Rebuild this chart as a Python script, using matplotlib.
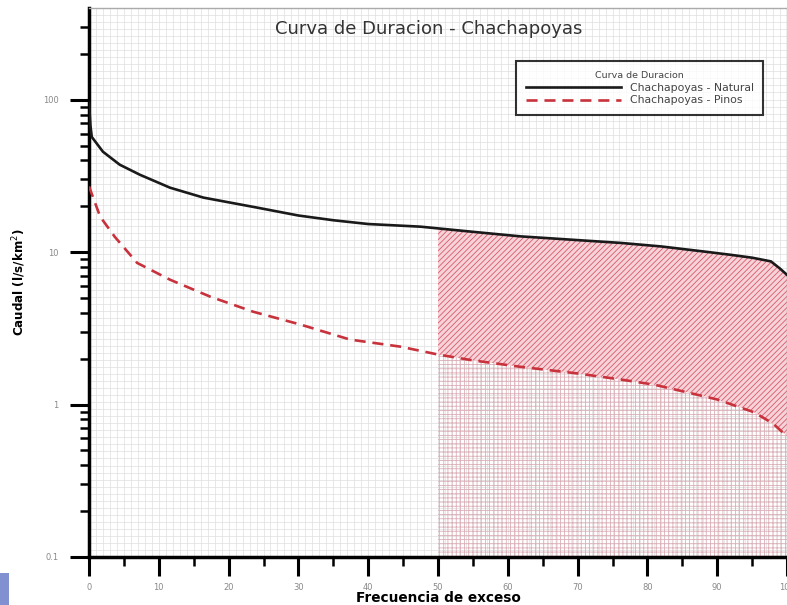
import numpy as np
import matplotlib
matplotlib.use('Agg')
import matplotlib.pyplot as plt
from matplotlib.patches import Rectangle
from matplotlib.ticker import FixedLocator, NullFormatter

plt.rcParams['font.family'] = ['DejaVu Sans']
plt.rcParams['hatch.linewidth'] = 0.6

# curva de duracion - Chachapoyas
x_natural = [0, 0.2, 0.4, 2, 4.4, 7.3, 11.6, 16.4, 24.1, 30, 35, 40, 47.5, 55,
             61.8, 70, 76.2, 82, 88.1, 92, 95, 97.7, 99, 100]
q_natural = [95, 68, 57, 45.6, 37.5, 32.2, 26.5, 22.8, 19.6, 17.4, 16.2, 15.3, 14.7, 13.6,
             12.7, 12.0, 11.5, 10.9, 10.1, 9.6, 9.2, 8.7, 7.8, 7.1]

x_pinos = [0, 1.6, 3.7, 6.9, 11.6, 17.4, 23.5, 30.3, 37.4, 44.6, 50, 55, 61.8, 70,
           76.2, 81, 85.8, 90, 95.3, 98, 100]
q_pinos = [27, 17.1, 12.6, 8.5, 6.6, 5.1, 4.07, 3.35, 2.67, 2.4, 2.13, 1.95, 1.77, 1.6,
           1.46, 1.35, 1.2, 1.08, 0.89, 0.75, 0.62]

x_ticks = [0, 10, 20, 30, 40, 50, 60, 70, 80, 90, 100]
y_ticks = [0.1, 1, 10, 100]
y_labels = ['0.1', '1', '10', '100']
x_inicio_area = 50

fig = plt.figure(figsize=(7.87, 6.05), dpi=100)
ax = fig.add_axes([89 / 787, 48 / 605, 698 / 787, 549 / 605])
ax.set_yscale('log')
ax.set_xlim(0, 100)
ax.set_ylim(0.1, 400)

# grilla fina uniforme
for gx in np.arange(0, 100.5, 1):
    ax.axvline(gx, color='#dedede', lw=0.5, zorder=0)
for gy in np.linspace(0, 1, 79):
    ax.plot([0, 1], [gy, gy], transform=ax.transAxes, color='#dedede', lw=0.5, zorder=0)

# areas sombreadas desde 50%
xf = np.linspace(x_inicio_area, 100, 200)
nat_f = 10 ** np.interp(xf, x_natural, np.log10(q_natural))
pin_f = 10 ** np.interp(xf, x_pinos, np.log10(q_pinos))
ax.fill_between(xf, pin_f, nat_f, facecolor='#f7d3d9', edgecolor='#d85a6a',
                hatch='//////', linewidth=0, zorder=1)
ax.fill_between(xf, 0.1, pin_f, facecolor='none', edgecolor='#dcb0b8',
                hatch='++++', linewidth=0, zorder=1)

ax.plot(x_natural, q_natural, color='#1a1a1a', lw=1.9, label='Chachapoyas - Natural', zorder=3)
ax.plot(x_pinos, q_pinos, color='#c8323c', lw=1.9, ls=(0, (4.2, 2.6)),
        label='Chachapoyas - Pinos', zorder=3)

# ejes
ax.xaxis.set_major_locator(FixedLocator(x_ticks))
ax.xaxis.set_minor_locator(FixedLocator(np.arange(5, 100, 10)))
ax.set_xticklabels([str(t) for t in x_ticks])
ax.yaxis.set_major_locator(FixedLocator(y_ticks))
minors = [m * d for d in [0.1, 1, 10] for m in range(2, 10)] + [200, 300]
ax.yaxis.set_minor_locator(FixedLocator(minors))
ax.yaxis.set_minor_formatter(NullFormatter())
ax.set_yticklabels(y_labels)

ax.tick_params(which='major', direction='out', length=14, width=2.2, colors='black',
               labelsize=6, labelcolor='#888888', pad=8)
ax.tick_params(which='minor', direction='out', length=6.5, width=1.8, colors='black')
ax.tick_params(axis='x', which='major', pad=5)

ax.spines['left'].set_linewidth(2.5)
ax.spines['bottom'].set_linewidth(2.5)
ax.spines['top'].set_linewidth(1)
ax.spines['top'].set_color('#aaaaaa')
ax.spines['right'].set_linewidth(1)
ax.spines['right'].set_color('#aaaaaa')

ax.text(0.486, 0.962, 'Curva de Duracion - Chachapoyas', transform=ax.transAxes,
        ha='center', va='center', fontsize=13, color='#333333')

ax.set_xlabel('Frecuencia de exceso', fontsize=9.8, fontweight='bold')
ax.xaxis.set_label_coords(0.5, -0.062)
ax.set_ylabel('Caudal (l/s/km$^2$)', fontsize=8.6, fontweight='bold')
ax.yaxis.set_label_coords(-0.088, 0.5)

leg = ax.legend(loc='upper right', bbox_to_anchor=(0.974, 0.913), title='Curva de Duracion',
                fontsize=7.8, title_fontsize=6.8, handlelength=8.8, frameon=True, fancybox=False,
                borderpad=0.9, labelspacing=0.25, handletextpad=0.8)
leg.get_frame().set_edgecolor('black')
leg.get_frame().set_linewidth(1.5)
for t in leg.get_texts():
    t.set_color('#444444')
leg.get_title().set_color('#444444')
leg.set_zorder(5)

fig.patches.append(Rectangle((0, 0), 9 / 787, 32 / 605, transform=fig.transFigure,
                             facecolor='#8090d0', edgecolor='none'))

fig.savefig('out.png', dpi=100)
